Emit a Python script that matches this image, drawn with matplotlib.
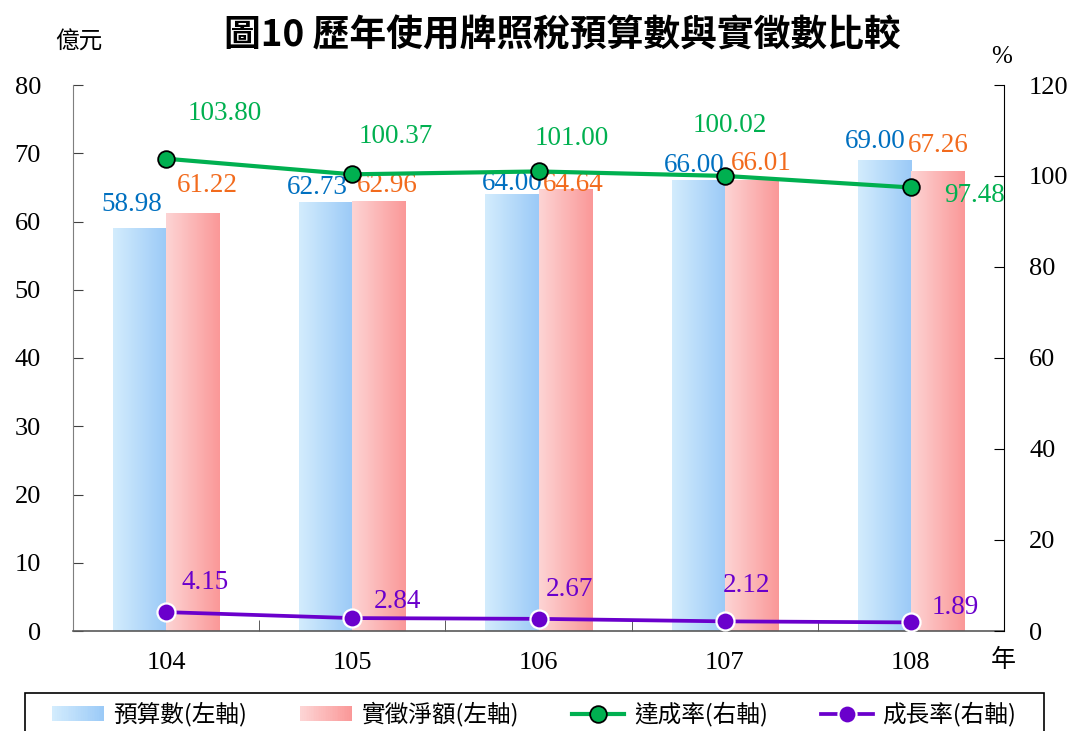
import numpy as np
import matplotlib
matplotlib.use("Agg")
import matplotlib.pyplot as plt
from matplotlib.patches import Rectangle, Patch
from matplotlib.legend_handler import HandlerBase
from matplotlib.colors import to_rgb

# ---------------- data ----------------
years = ["104", "105", "106", "107", "108"]
budget = [58.98, 62.73, 64.00, 66.00, 69.00]          # 預算數 (億元)
actual = [61.22, 62.96, 64.64, 66.01, 67.26]          # 實徵淨額 (億元)
achieve = [103.80, 100.37, 101.00, 100.02, 97.48]     # 達成率 (%)
growth = [4.15, 2.84, 2.67, 2.12, 1.89]               # 成長率 (%)
left_ticks = [0, 10, 20, 30, 40, 50, 60, 70, 80]
right_ticks = [0, 20, 40, 60, 80, 100, 120]

# ---------------- styles ----------------
CJK = ["Noto Sans CJK TC", "DejaVu Sans"]
SERIF = ["Liberation Serif", "DejaVu Serif"]
BLUE_GRAD = ("#D3ECFD", "#9BCAF7")
RED_GRAD = ("#FDD4D4", "#FA9898")
C_BLUE_TXT = "#0070C0"
C_RED_TXT = "#F26B1D"
C_GREEN = "#00B050"
C_PURPLE = "#6A00CC"

# label offsets in pixels (dx, dy up)
off_b = [(-8, 24), (-8, 15), (0, 11), (-4, 15), (-9, 19)]
off_r = [(15, 28), (8, 16), (8, 5), (10, 17), (1, 26)]
off_g = [(59, 45), (43, 38), (33, 33), (5, 50), (64, -8)]
off_p = [(39, 30), (45, 17), (31, 29), (22, 36), (44, 15)]

plt.rcParams["font.family"] = SERIF

fig = plt.figure(figsize=(10.72, 7.31), dpi=100)
ax = fig.add_axes([73 / 1072, 1 - 631 / 731, (1004 - 73) / 1072, (631 - 85) / 731])

x = np.arange(len(years))
w = 0.285


def grad_img(c0, c1, n=64):
    a, b = np.array(to_rgb(c0)), np.array(to_rgb(c1))
    t = np.linspace(0, 1, n)[None, :, None]
    return a[None, None, :] * (1 - t) + b[None, None, :] * t


bars_b = ax.bar(x - w / 2, budget, w, color="none", edgecolor="none")
bars_r = ax.bar(x + w / 2, actual, w, color="none", edgecolor="none")
for bars, g in ((bars_b, BLUE_GRAD), (bars_r, RED_GRAD)):
    img = grad_img(*g)
    for b in bars:
        x0, wd, h = b.get_x(), b.get_width(), b.get_height()
        ax.imshow(img, extent=[x0, x0 + wd, 0, h], aspect="auto",
                  origin="lower", interpolation="bilinear", zorder=2)

ax.set_xlim(-0.5, len(years) - 0.5)
ax.set_ylim(0, 80)
ax.set_yticks(left_ticks)
ax.set_xticks(x)
ax.set_xticklabels(years)
ax.set_xticks(x[:-1] + 0.5, minor=True)
ax.tick_params(axis="x", which="major", length=0, pad=15, labelsize=19)
ax.tick_params(axis="x", which="minor", direction="in", length=8, color="#404040")
ax.tick_params(axis="y", direction="in", length=7, pad=23, labelsize=19, color="#404040")
for s in ("top", "right"):
    ax.spines[s].set_visible(False)
ax.spines["left"].set_color("#7F7F7F")
ax.spines["bottom"].set_color("#595959")
ax.spines["bottom"].set_linewidth(1.2)

ax2 = ax.twinx()
ax2.set_ylim(0, 120)
ax2.set_yticks(right_ticks)
ax2.tick_params(axis="y", direction="in", length=7, pad=18, labelsize=19, color="black")
for s in ("top", "left", "bottom"):
    ax2.spines[s].set_visible(False)
ax2.spines["right"].set_color("black")

ln_g, = ax2.plot(x, achieve, color=C_GREEN, lw=3, marker="o", ms=12,
                 mfc=C_GREEN, mec="black", mew=1.3, zorder=5)
ln_p, = ax2.plot(x, growth, color=C_PURPLE, lw=2.7, marker="o", ms=13,
                 mfc=C_PURPLE, mec="white", mew=1.6, zorder=5, clip_on=False)

# value labels
for i in range(len(years)):
    ax.annotate(f"{budget[i]:.2f}", (bars_b[i].get_x() + w / 2, budget[i]),
                xytext=off_b[i], textcoords="offset pixels", ha="center", va="center",
                fontsize=19.5, color=C_BLUE_TXT, zorder=6)
    ax.annotate(f"{actual[i]:.2f}", (bars_r[i].get_x() + w / 2, actual[i]),
                xytext=off_r[i], textcoords="offset pixels", ha="center", va="center",
                fontsize=19.5, color=C_RED_TXT, zorder=6)
    ax2.annotate(f"{achieve[i]:.2f}", (x[i], achieve[i]),
                 xytext=off_g[i], textcoords="offset pixels", ha="center", va="center",
                 fontsize=19.5, color=C_GREEN, zorder=6)
    ax2.annotate(f"{growth[i]:.2f}", (x[i], growth[i]),
                 xytext=off_p[i], textcoords="offset pixels", ha="center", va="center",
                 fontsize=19.5, color=C_PURPLE, zorder=6)

# titles and unit labels
fig.text(562 / 1072, 1 - 36 / 731, "圖10 歷年使用牌照稅預算數與實徵數比較",
         ha="center", va="center", fontsize=26.5, fontweight="bold", family=CJK)
fig.text(79 / 1072, 1 - 42 / 731, "億元", ha="center", va="center", fontsize=17, family=CJK)
fig.text(1002 / 1072, 1 - 57 / 731, "%", ha="center", va="center", fontsize=18, family=SERIF)
fig.text(1003 / 1072, 1 - 660 / 731, "年", ha="center", va="center", fontsize=18, family=CJK)


# legend
class GradHandler(HandlerBase):
    def __init__(self, c0, c1, n=30):
        super().__init__()
        self.c0, self.c1, self.n = np.array(to_rgb(c0)), np.array(to_rgb(c1)), n

    def create_artists(self, legend, orig_handle, xdescent, ydescent, width, height,
                       fontsize, trans):
        arts = []
        for i in range(self.n):
            t = i / (self.n - 1)
            col = self.c0 * (1 - t) + self.c1 * t
            arts.append(Rectangle((-xdescent + width * i / self.n, -ydescent),
                                  width / self.n * 1.08, height, facecolor=col,
                                  edgecolor="none", transform=trans))
        return arts


pb = Patch(label="預算數(左軸)")
pr = Patch(label="實徵淨額(左軸)")
ln_g.set_label("達成率(右軸)")
ln_p.set_label("成長率(右軸)")
fig.legend(handles=[pb, pr, ln_g, ln_p], ncol=4, frameon=False,
           loc="upper left", bbox_to_anchor=(52 / 1072, 1 - 702 / 731),
           borderpad=0, borderaxespad=0, handlelength=2.2, handleheight=0.55,
           handletextpad=0.4, columnspacing=2.25, prop={"family": CJK, "size": 17},
           handler_map={pb: GradHandler(*BLUE_GRAD), pr: GradHandler(*RED_GRAD)})
fig.add_artist(Rectangle((25 / 1072, -0.05), 1019 / 1072, (1 - 693 / 731) + 0.05,
                         transform=fig.transFigure, fill=False, edgecolor="black", lw=1.2))

fig.savefig("out.png", dpi=100)
